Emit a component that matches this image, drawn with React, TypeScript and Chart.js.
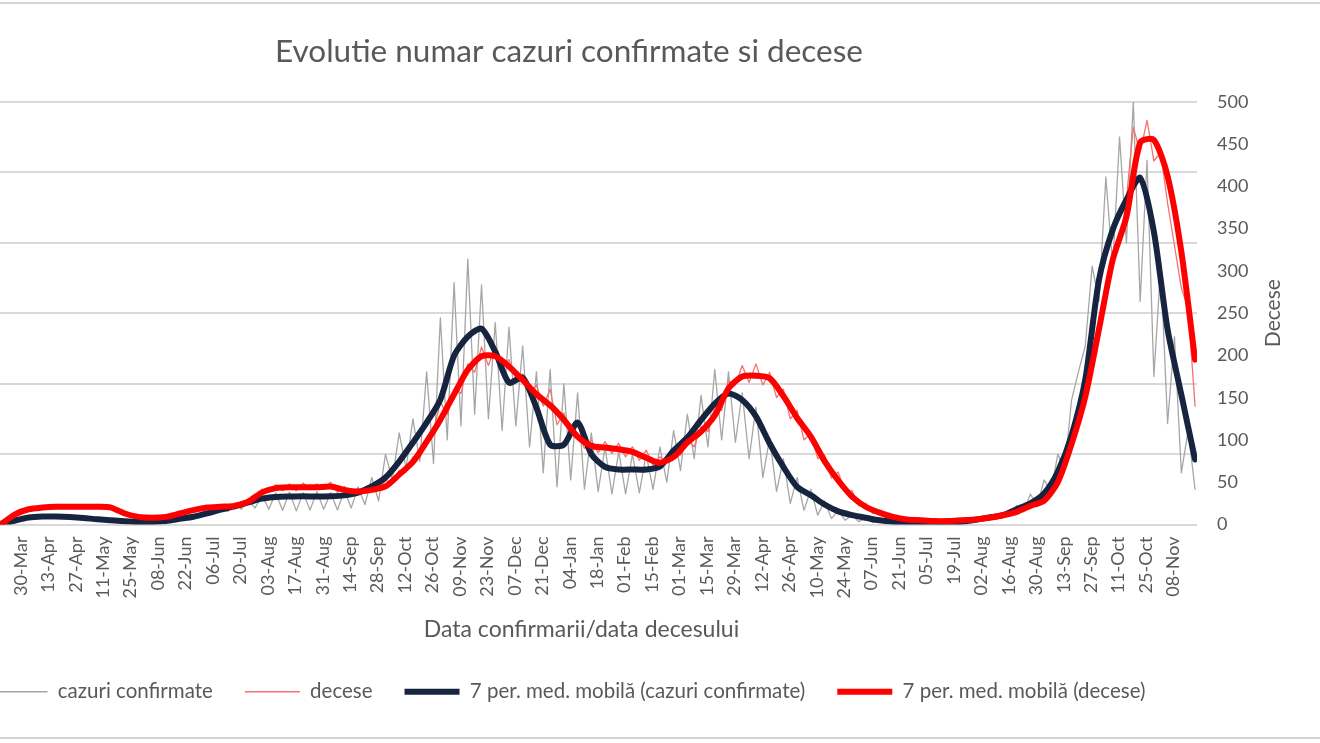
import React, { useEffect, useRef } from 'react';
import { Chart, registerables } from 'chart.js';

Chart.register(...registerables);

// X axis: day index counted from 02-Mar-2020; one tick label every 14 days
const tickLabels = [
  '02-Mar', '16-Mar', '30-Mar', '13-Apr', '27-Apr', '11-May', '25-May', '08-Jun', '22-Jun',
  '06-Jul', '20-Jul', '03-Aug', '17-Aug', '31-Aug', '14-Sep', '28-Sep', '12-Oct', '26-Oct',
  '09-Nov', '23-Nov', '07-Dec', '21-Dec', '04-Jan', '18-Jan', '01-Feb', '15-Feb', '01-Mar',
  '15-Mar', '29-Mar', '12-Apr', '26-Apr', '10-May', '24-May', '07-Jun', '21-Jun', '05-Jul',
  '19-Jul', '02-Aug', '16-Aug', '30-Aug', '13-Sep', '27-Sep', '11-Oct', '25-Oct', '08-Nov',
];
const TICK_STEP_DAYS = 14;
const X_MIN_DAY = 0;
const X_MAX_DAY = 628;

// daily series sampled every 3.5 days starting at day 0.5
const DAILY_START = 0.5;
const DAILY_STEP = 3.5;
// 7-day moving averages sampled weekly starting at day 4
const MA_START = 4;
const MA_STEP = 7;

const casesDaily = [
  0, 3, 10, 20, 40,
  40, 120, 190, 220, 320,
  290, 370, 320, 380, 300,
  350, 260, 320, 220, 260,
  170, 220, 140, 180, 110,
  150, 90, 160, 110, 200,
  150, 300, 230, 380, 330,
  540, 450, 700, 560, 850,
  650, 1050, 700, 1250, 650,
  1350, 600, 1380, 580, 1350,
  620, 1400, 650, 1350, 620,
  1450, 700, 1600, 850, 2000,
  1000, 3000, 1900, 3900, 2400,
  4500, 2700, 6500, 2600, 8800,
  3600, 10300, 4200, 11300, 4700,
  10200, 4500, 8600, 4000, 8400,
  4200, 7600, 3300, 6500, 2200,
  6600, 1600, 6000, 1900, 5600,
  1500, 3900, 1400, 3300, 1300,
  3100, 1300, 3000, 1350, 3000,
  1500, 3300, 1800, 4000, 2300,
  4700, 2800, 5500, 3300, 6600,
  3600, 6500, 3500, 5600, 2800,
  5000, 2000, 3700, 1400, 2800,
  900, 2000, 600, 1500, 400,
  1000, 250, 600, 180, 400,
  120, 280, 80, 180, 60,
  120, 50, 100, 50, 100,
  60, 110, 60, 120, 80,
  160, 110, 220, 160, 330,
  250, 500, 380, 800, 550,
  1300, 800, 1900, 1400, 3000,
  2300, 5300, 6500, 7600, 11000,
  9500, 14800, 11000, 16500, 12000,
  18000, 9500, 15500, 6300, 11000,
  4300, 8000, 2200, 4000, 1500,
];

const deathsDaily = [
  0, 0, 0, 0, 1,
  2, 6, 12, 15, 19,
  18, 22, 19, 24, 19,
  23, 20, 23, 19, 23,
  19, 22, 15, 15, 9,
  10, 7, 9, 7, 11,
  10, 15, 13, 19, 17,
  22, 19, 24, 19, 25,
  22, 30, 29, 42, 38,
  47, 40, 48, 40, 49,
  41, 48, 42, 50, 38,
  45, 36, 43, 37, 45,
  41, 52, 50, 64, 62,
  80, 78, 103, 110, 145,
  130, 160, 155, 190, 180,
  210, 188, 210, 185, 195,
  172, 178, 155, 165, 140,
  160, 118, 132, 105, 108,
  90, 100, 85, 98, 84,
  96, 80, 92, 76, 88,
  70, 80, 74, 90, 82,
  100, 92, 116, 110, 140,
  135, 170, 165, 188, 168,
  190, 165, 180, 150, 160,
  125, 135, 100, 108, 78,
  82, 55, 62, 38, 40,
  22, 25, 13, 16, 8,
  10, 5, 7, 4, 6,
  3, 5, 3, 5, 3,
  6, 4, 8, 6, 10,
  8, 13, 11, 17, 16,
  24, 22, 32, 35, 60,
  68, 105, 118, 170, 190,
  245, 265, 320, 330, 385,
  470, 440, 478, 430, 440,
  380, 330, 280, 255, 140,
];

const casesMA = [
  0, 0, 10, 170, 300,
  340, 340, 320, 280, 220,
  180, 140, 110, 110, 150,
  240, 330, 470, 640, 770,
  940, 1100, 1170, 1190, 1200,
  1190, 1200, 1240, 1360, 1620,
  2000, 2680, 3490, 4340, 5320,
  7190, 8000, 8340, 7360, 6040,
  6250, 4980, 3400, 3400, 4340,
  3000, 2450, 2340, 2340, 2340,
  2470, 3150, 3700, 4450, 5150,
  5580, 5300, 4600, 3450, 2450,
  1600, 1250, 850, 560, 400,
  290, 180, 120, 100, 90,
  90, 95, 120, 200, 300,
  400, 650, 900, 1320, 2250,
  3790, 6170, 10420, 12550, 13830,
  14760, 12470, 8300, 5530, 2770,
];

const deathsMA = [
  0, 0, 1, 12, 18,
  20, 21, 21, 21, 21,
  20, 13, 9, 8, 9,
  13, 17, 20, 21, 22,
  27, 38, 43, 44, 44,
  44, 45, 41, 39, 41,
  45, 59, 74, 98, 124,
  154, 183, 199, 199, 187,
  171, 154, 141, 124, 104,
  93, 91, 89, 86, 79,
  73, 80, 97, 110, 129,
  161, 175, 176, 173, 152,
  126, 104, 75, 52, 33,
  21, 14, 9, 6, 5,
  4, 4, 5, 6, 8,
  11, 15, 22, 28, 50,
  95, 151, 231, 313, 364,
  452, 455, 412, 323, 195,
];

const CASES_MAX = 18000;
const CASES_STEP = 3000;
const DEATHS_MAX = 500;
const DEATHS_STEP = 50;

const toPoints = (vals: number[], start: number, step: number) =>
  vals.map((v, i) => ({ x: start + i * step, y: v }));

const FONT = 'Lato, "Open Sans", sans-serif';
const TEXT = '#595959';

const rightTitlePlugin = {
  id: 'rightTitle',
  afterDraw(chart: any) {
    const { ctx, chartArea } = chart;
    ctx.save();
    ctx.translate(chartArea.right + 76, (chartArea.top + chartArea.bottom) / 2);
    ctx.rotate(-Math.PI / 2);
    ctx.font = `21px ${FONT}`;
    ctx.fillStyle = TEXT;
    ctx.textAlign = 'center';
    ctx.textBaseline = 'middle';
    ctx.fillText('Decese', 0, 0);
    ctx.restore();
  },
};

export default function App() {
  const ref = useRef<HTMLCanvasElement>(null);

  useEffect(() => {
    const common = { pointRadius: 0, pointHoverRadius: 0, pointStyle: 'line', borderJoinStyle: 'round', borderCapStyle: 'round' };
    const chart = new Chart(ref.current as HTMLCanvasElement, {
      type: 'line',
      data: {
        datasets: [
          {
            ...common,
            label: 'cazuri confirmate',
            data: toPoints(casesDaily, DAILY_START, DAILY_STEP),
            yAxisID: 'yCases',
            borderColor: '#a6a6a6',
            backgroundColor: '#a6a6a6',
            borderWidth: 1.3,
            order: 3,
          },
          {
            ...common,
            label: 'decese',
            data: toPoints(deathsDaily, DAILY_START, DAILY_STEP),
            yAxisID: 'yDeaths',
            borderColor: '#f27272',
            backgroundColor: '#f27272',
            borderWidth: 1.3,
            order: 2,
          },
          {
            ...common,
            label: '7 per. med. mobilă (cazuri confirmate)',
            data: toPoints(casesMA, MA_START, MA_STEP),
            yAxisID: 'yCases',
            borderColor: '#172440',
            backgroundColor: '#172440',
            borderWidth: 6,
            tension: 0.25,
            order: 1,
          },
          {
            ...common,
            label: '7 per. med. mobilă (decese)',
            data: toPoints(deathsMA, MA_START, MA_STEP),
            yAxisID: 'yDeaths',
            borderColor: '#ff0000',
            backgroundColor: '#ff0000',
            borderWidth: 6,
            tension: 0.25,
            order: 0,
          },
        ] as any,
      },
      options: {
        responsive: false,
        animation: false,
        devicePixelRatio: 1,
        layout: { padding: { top: 0, left: 0, right: 0, bottom: 31 } },
        plugins: {
          title: {
            display: true,
            text: 'Evolutie numar cazuri confirmate si decese',
            color: TEXT,
            font: { family: FONT, size: 31.5, weight: 'normal' },
            padding: { top: 33, bottom: 31 },
          },
          legend: {
            position: 'bottom',
            labels: {
              usePointStyle: true,
              pointStyleWidth: 55,
              color: TEXT,
              font: { family: FONT, size: 20.5 },
              padding: 32,
              sort: (a: any, b: any) => a.datasetIndex - b.datasetIndex,
            },
          },
          tooltip: { enabled: false },
        },
        scales: {
          x: {
            type: 'linear',
            min: X_MIN_DAY,
            max: X_MAX_DAY,
            grid: { display: false, drawTicks: false },
            border: { display: false },
            afterBuildTicks: (s: any) => {
              s.ticks = tickLabels.map((_, i) => ({ value: i * TICK_STEP_DAYS }));
            },
            afterFit: (s: any) => {
              s.height = 125;
              s.paddingLeft = 0;
              s.paddingRight = 0;
            },
            ticks: {
              autoSkip: false,
              minRotation: 90,
              maxRotation: 90,
              padding: 12,
              color: TEXT,
              font: { family: FONT, size: 18 },
              callback: (v: any) => tickLabels[Math.round(Number(v) / TICK_STEP_DAYS)] ?? '',
            },
            title: {
              display: true,
              text: 'Data confirmarii/data decesului',
              color: TEXT,
              font: { family: FONT, size: 23 },
              padding: { top: 4, bottom: 6 },
            },
          },
          yCases: {
            type: 'linear',
            position: 'left',
            min: 0,
            max: CASES_MAX,
            ticks: { stepSize: CASES_STEP, display: false },
            grid: { color: '#d9d9d9', lineWidth: 2, drawTicks: false },
            border: { display: false },
            afterFit: (s: any) => {
              s.width = 148;
            },
          },
          yDeaths: {
            type: 'linear',
            position: 'right',
            min: 0,
            max: DEATHS_MAX,
            ticks: { stepSize: DEATHS_STEP, padding: 20, color: TEXT, font: { family: FONT, size: 18 } },
            grid: { display: false, drawTicks: false },
            border: { display: false },
            afterFit: (s: any) => {
              s.width = 123;
            },
          },
        },
      } as any,
      plugins: [rightTitlePlugin],
    });
    return () => chart.destroy();
  }, []);

  return (
    <div
      style={{
        position: 'fixed',
        left: 0,
        top: 0,
        width: 1320,
        height: 743,
        overflow: 'hidden',
        background: '#ffffff',
      }}
    >
      <canvas
        ref={ref}
        width={1502}
        height={743}
        style={{ position: 'absolute', left: -182, top: 0, width: 1502, height: 743 }}
      />
      <div style={{ position: 'absolute', left: 0, top: 2, width: 1320, height: 2, background: '#d4d4d4' }} />
      <div style={{ position: 'absolute', left: 0, top: 737, width: 1320, height: 2, background: '#d4d4d4' }} />
    </div>
  );
}
